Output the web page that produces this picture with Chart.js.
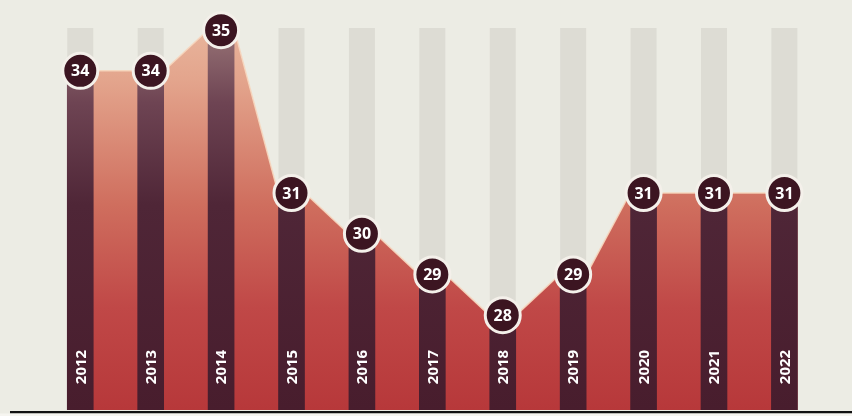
<!DOCTYPE html>
<html>
<head>
<meta charset="utf-8">
<script src="https://cdn.jsdelivr.net/npm/chart.js@4"></script>
<style>
    html, body { margin: 0; padding: 0; background: #ecece4; }
    #wrap { width: 852px; height: 416px; }
</style>
</head>
<body>
<div id="wrap"><canvas id="chart" width="852" height="416"></canvas></div>
<script>
// Data
const years = ['2012', '2013', '2014', '2015', '2016', '2017', '2018', '2019', '2020', '2021', '2022'];
const values = [34, 34, 35, 31, 30, 29, 28, 29, 31, 31, 31];

document.addEventListener('DOMContentLoaded', function () {
    const ctx = document.getElementById('chart').getContext('2d');

    // area gets a small flat top over each bar, like the print
    const areaPoints = values.flatMap((v, i) => [{ x: i - 0.19, y: v }, { x: i + 0.19, y: v }]);
    const points = values.map((v, i) => ({ x: i, y: v }));

    function areaFill(context) {
        const area = context.chart.chartArea;
        if (!area) return '#c04848';
        const g = context.chart.ctx.createLinearGradient(0, area.top, 0, area.bottom);
        g.addColorStop(0, '#ebbda4');
        g.addColorStop(0.2, '#e3a48c');
        g.addColorStop(0.5, '#cf6e5e');
        g.addColorStop(0.75, '#c04847');
        g.addColorStop(1, '#b7383a');
        return g;
    }

    function barFill(context) {
        const area = context.chart.chartArea;
        if (!area) return '#4a1e2e';
        const g = context.chart.ctx.createLinearGradient(0, area.top, 0, area.bottom);
        g.addColorStop(0, '#a88684');
        g.addColorStop(0.25, '#6e4453');
        g.addColorStop(0.5, '#4f2637');
        g.addColorStop(1, '#481d2d');
        return g;
    }

    // faint grey columns behind the area
    const stripes = {
        id: 'stripes',
        beforeDatasetsDraw(chart) {
            const c = chart.ctx;
            const x = chart.scales.x;
            c.save();
            c.fillStyle = '#dddcd4';
            years.forEach((y, i) => {
                const px = x.getPixelForValue(i);
                c.fillRect(px - 13, 28, 26, chart.chartArea.bottom - 28);
            });
            c.restore();
        }
    };

    // value in circles, years up the bars, rule at the bottom
    const labels = {
        id: 'labels',
        afterDatasetsDraw(chart) {
            const c = chart.ctx;
            const x = chart.scales.x;
            const y = chart.scales.y;
            c.save();
            c.fillStyle = '#ffffff';
            c.textAlign = 'center';
            c.textBaseline = 'middle';
            c.font = 'bold 16px "Open Sans", "DejaVu Sans", sans-serif';
            values.forEach((v, i) => {
                c.fillText(String(v), x.getPixelForValue(i), y.getPixelForValue(v) + 1);
            });
            c.font = 'bold 15px "Open Sans", "DejaVu Sans", sans-serif';
            years.forEach((yr, i) => {
                c.save();
                c.translate(x.getPixelForValue(i), 367);
                c.rotate(-Math.PI / 2);
                c.fillText(yr, 0, 1);
                c.restore();
            });
            c.fillStyle = '#111111';
            c.fillRect(10, chart.chartArea.bottom + 1, chart.width - 10, 2.5);
            c.fillStyle = '#f6f5f0';
            c.fillRect(0, chart.chartArea.bottom + 3.5, chart.width, 10);
            c.restore();
        }
    };

    new Chart(ctx, {
        data: {
            datasets: [{
                type: 'scatter',
                data: points,
                showLine: false,
                pointRadius: 17.5,
                pointBorderWidth: 3,
                pointBorderColor: '#f4f0ea',
                pointBackgroundColor: '#3c1521',
                clip: false,
                order: 0
            }, {
                type: 'bar',
                data: points,
                barThickness: 26,
                backgroundColor: barFill,
                order: 1
            }, {
                type: 'line',
                data: areaPoints,
                fill: 'start',
                backgroundColor: areaFill,
                borderColor: 'rgba(246, 214, 190, 0.9)',
                borderWidth: 1.5,
                pointRadius: 0,
                tension: 0,
                order: 2
            }]
        },
        options: {
            responsive: false,
            animation: false,
            events: [],
            layout: { autoPadding: false, padding: { top: 0, left: 0, right: 0, bottom: 6 } },
            plugins: {
                legend: { display: false },
                tooltip: { enabled: false }
            },
            scales: {
                x: { type: 'linear', offset: false, min: -1.14, max: 10.96, display: false },
                y: { min: 25.67, max: 35.74, display: false }
            }
        },
        plugins: [stripes, labels]
    });
});
</script>
</body>
</html>
